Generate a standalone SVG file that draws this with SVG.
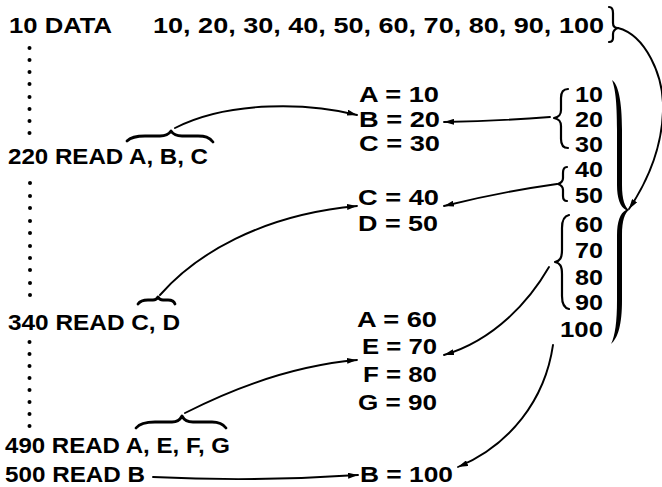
<svg xmlns="http://www.w3.org/2000/svg" width="662" height="487" viewBox="0 0 662 487">
<style>
text{font-family:"Liberation Sans",Arial,sans-serif;font-weight:bold;font-size:22px;fill:#000}
.ln{fill:none;stroke:#000;stroke-width:1.9;stroke-linecap:round}
.br{fill:none;stroke:#000;stroke-width:2.2;stroke-linecap:round;stroke-linejoin:round}
.ob{fill:none;stroke:#000;stroke-width:2.8;stroke-linecap:round;stroke-linejoin:round}
.dot{fill:#000}
</style>
<defs>
<marker id="ah" markerUnits="userSpaceOnUse" viewBox="0 0 10 6" refX="10" refY="3" markerWidth="10" markerHeight="6" orient="auto">
<path d="M0,0 L10,3 L0,6 Z" fill="#000"/>
</marker>
</defs>
<rect width="662" height="487" fill="#fff"/>

<g id="program">
<g id="line10"><text x="9" y="33" textLength="103" lengthAdjust="spacingAndGlyphs">10 DATA</text>
<text x="153" y="33" textLength="451" lengthAdjust="spacingAndGlyphs">10, 20, 30, 40, 50, 60, 70, 80, 90, 100</text></g>
<g id="line220"><text x="8" y="164" textLength="200" lengthAdjust="spacingAndGlyphs">220 READ A, B, C</text></g>
<g id="line340"><text x="8" y="330" textLength="172" lengthAdjust="spacingAndGlyphs">340 READ C, D</text></g>
<g id="line490"><text x="5" y="453" textLength="225" lengthAdjust="spacingAndGlyphs">490 READ A, E, F, G</text></g>
<g id="line500"><text x="5" y="482" textLength="140" lengthAdjust="spacingAndGlyphs">500 READ B</text></g>
</g>

<g id="dots">
<circle class="dot" cx="29.5" cy="48" r="2"/><circle class="dot" cx="29.5" cy="60" r="2"/><circle class="dot" cx="29.5" cy="72" r="2"/><circle class="dot" cx="29.5" cy="84" r="2"/><circle class="dot" cx="29.5" cy="97" r="2"/><circle class="dot" cx="29.5" cy="109" r="2"/><circle class="dot" cx="29.5" cy="121" r="2"/><circle class="dot" cx="29.5" cy="133" r="2"/>
<circle class="dot" cx="30" cy="183" r="2"/><circle class="dot" cx="30" cy="196" r="2"/><circle class="dot" cx="30" cy="208" r="2"/><circle class="dot" cx="30" cy="221" r="2"/><circle class="dot" cx="30" cy="233" r="2"/><circle class="dot" cx="30" cy="246" r="2"/><circle class="dot" cx="30" cy="258" r="2"/><circle class="dot" cx="30" cy="270" r="2"/><circle class="dot" cx="30" cy="283" r="2"/><circle class="dot" cx="30" cy="295" r="2"/>
<circle class="dot" cx="29.5" cy="342" r="2"/><circle class="dot" cx="29.5" cy="354" r="2"/><circle class="dot" cx="29.5" cy="366" r="2"/><circle class="dot" cx="29.5" cy="378" r="2"/><circle class="dot" cx="29.5" cy="390" r="2"/><circle class="dot" cx="29.5" cy="402" r="2"/><circle class="dot" cx="29.5" cy="414" r="2"/><circle class="dot" cx="29.5" cy="426" r="2"/>
</g>

<g id="assignments">
<g id="read220"><text x="359" y="102" textLength="80" lengthAdjust="spacingAndGlyphs">A = 10</text>
<text x="359" y="127" textLength="81" lengthAdjust="spacingAndGlyphs">B = 20</text>
<text x="359" y="151" textLength="81" lengthAdjust="spacingAndGlyphs">C = 30</text></g>
<g id="read340"><text x="358" y="205" textLength="81" lengthAdjust="spacingAndGlyphs">C = 40</text>
<text x="358" y="231" textLength="80" lengthAdjust="spacingAndGlyphs">D = 50</text></g>
<g id="read490"><text x="357" y="327" textLength="80" lengthAdjust="spacingAndGlyphs">A = 60</text>
<text x="362" y="354" textLength="75" lengthAdjust="spacingAndGlyphs">E = 70</text>
<text x="363" y="382" textLength="74" lengthAdjust="spacingAndGlyphs">F = 80</text>
<text x="358" y="410" textLength="79" lengthAdjust="spacingAndGlyphs">G = 90</text></g>
<g id="read500"><text x="360" y="482" textLength="93" lengthAdjust="spacingAndGlyphs">B = 100</text></g>
</g>

<g id="data-list">
<text x="575" y="102" textLength="28" lengthAdjust="spacingAndGlyphs">10</text>
<text x="575" y="127" textLength="28" lengthAdjust="spacingAndGlyphs">20</text>
<text x="575" y="152" textLength="28" lengthAdjust="spacingAndGlyphs">30</text>
<text x="575" y="177" textLength="28" lengthAdjust="spacingAndGlyphs">40</text>
<text x="575" y="203" textLength="28" lengthAdjust="spacingAndGlyphs">50</text>
<text x="575" y="232" textLength="28" lengthAdjust="spacingAndGlyphs">60</text>
<text x="575" y="258" textLength="28" lengthAdjust="spacingAndGlyphs">70</text>
<text x="575" y="285" textLength="28" lengthAdjust="spacingAndGlyphs">80</text>
<text x="575" y="310" textLength="28" lengthAdjust="spacingAndGlyphs">90</text>
<text x="560" y="337" textLength="43" lengthAdjust="spacingAndGlyphs">100</text>
</g>

<g id="braces">
<path class="br" d="M609,7 C612,7 613,9 613,13 L613,23 C613,26 615,28 618,28 C615,29 613,31 613,34 L613,38 C613,41 612,42 609,42"/>
<path class="br" d="M568,89 C563,89 561,92 561,98 L561,110 C561,115 559,117 554,118 C559,119 561,121 561,126 L561,139 C561,145 563,148 568,148"/>
<path class="br" d="M567,167 C564,167 563,169 563,173 L563,178 C563,181 561,183 558,184 C561,185 563,187 563,190 L563,196 C563,199 564,201 567,201"/>
<path class="br" d="M569,215 C564,216 562,220 562,228 L562,250 C562,258 560,261 555,262 C560,263 562,266 562,274 L562,296 C562,304 564,308 569,309"/>
<path fill="#000" d="M612,80 C618,84 622,100 622,130 L622,185 C622,200 625,207 629,210 C625,213 622,220 622,235 L622,300 C622,325 618,338 611,344 C615,336 617,322 617,300 L617,235 C617,222 620,213 626,210 C620,207 617,198 617,185 L617,130 C617,100 615,88 612,80 Z"/>
<path class="ob" d="M127,141 C131,137 136,136 145,136 L160,136 C166,136 169,134 171,131 C173,134 176,136 182,136 L198,136 C205,136 209,137 213,142"/>
<path class="ob" d="M138,304 C140,301 143,300 148,300 L153,300 C156,300 157,299 158,297 C159,299 160,300 163,300 L168,300 C172,300 174,301 175,304"/>
<path class="ob" d="M136,428 C140,423 146,422 155,422 L172,422 C177,422 180,420 182,416 C184,420 187,422 193,422 L212,422 C219,422 223,424 226,428"/>
</g>

<g id="connectors">
<path class="ln" marker-end="url(#ah)" d="M618,28 C645,35 664,75 663,110 C662,150 645,185 629,209"/>
<path class="ln" marker-end="url(#ah)" d="M550,117 Q500,121 444,122"/>
<path class="ln" marker-end="url(#ah)" d="M175,128 C230,100 310,103 357,115"/>
<path class="ln" marker-end="url(#ah)" d="M557,184 Q500,192 444,206"/>
<path class="ln" marker-end="url(#ah)" d="M160,295 C195,255 260,215 357,206"/>
<path class="ln" marker-end="url(#ah)" d="M549,267 C530,300 495,340 444,355"/>
<path class="ln" marker-end="url(#ah)" d="M185,413 C240,385 300,365 357,360"/>
<path class="ln" marker-end="url(#ah)" d="M553,345 C545,400 510,445 458,467"/>
<path class="ln" marker-end="url(#ah)" d="M153,477 Q255,482 358,475"/>
</g>
</svg>
